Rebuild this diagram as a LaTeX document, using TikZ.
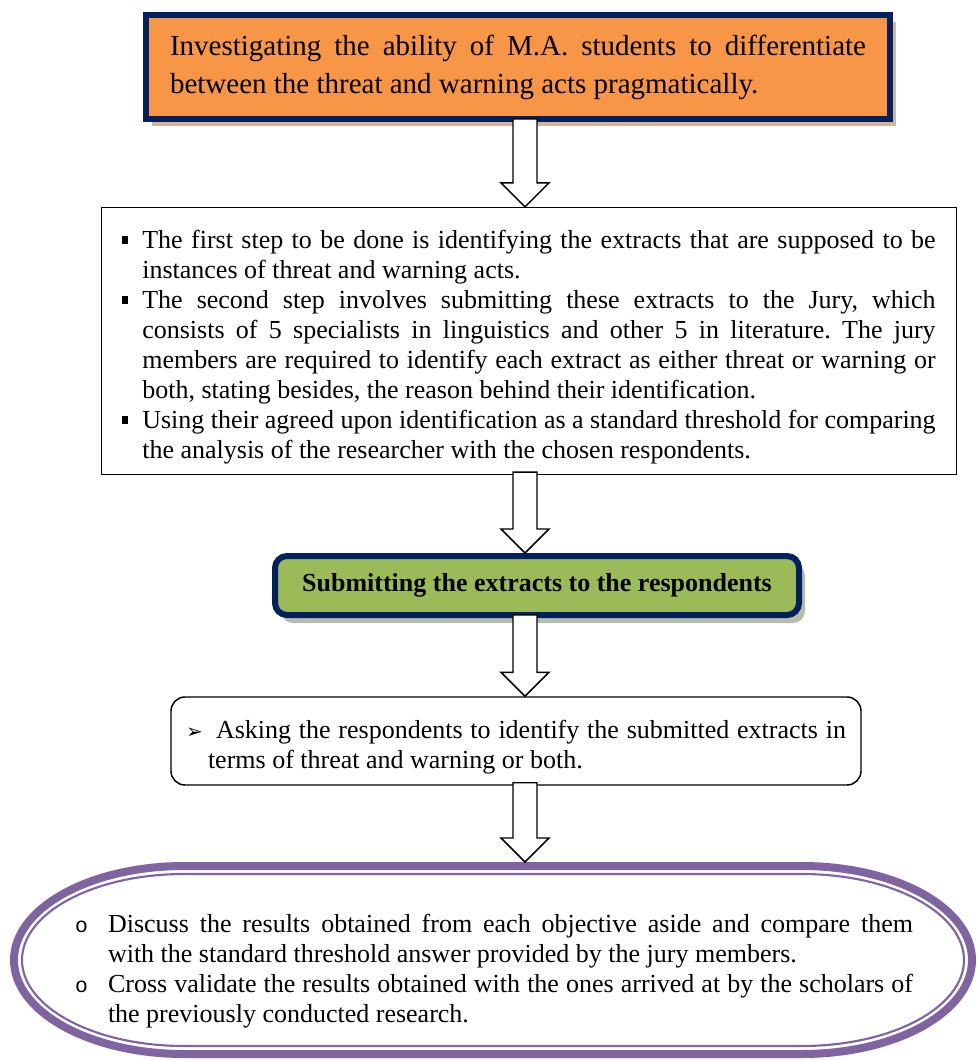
\documentclass[tikz,border=0pt]{standalone}
\usepackage{fontspec}
\setmainfont{Liberation Serif}
\newfontfamily\dingfont{DejaVu Sans}
\newfontfamily\circfont{Liberation Mono}
\usetikzlibrary{calc,shadows}

\setlength{\parindent}{0pt}
\setlength{\parskip}{0pt}
\frenchspacing

\newcommand{\sqitem}[1]{\par\noindent\hangindent=15pt\hangafter=1\makebox[15pt][l]{\rule[3pt]{4.5pt}{6pt}}#1\par}
\newcommand{\circitem}[1]{\par\noindent\hangindent=24.75pt\hangafter=1\makebox[24.75pt][l]{\circfont\fontsize{16}{16}\selectfont o}#1\par}
\newcommand{\blockarrow}[2]{\draw [arrowbody] ($(#1)+(-12,-3)$) -- ($(#2)+(-12,-24)$) -- ($(#2)+(-24,-24)$) -- (#2) -- ($(#2)+(24,-24)$) -- ($(#2)+(12,-24)$) -- ($(#1)+(12,-3)$) -- cycle ;}

\tikzset{every picture/.style={line width=0.75pt}}
\tikzset{
  bodytext/.style={font=\fontsize{19.5}{22.5}\selectfont},
  navyframe/.style={draw={rgb, 255:red, 0; green, 32; blue, 96 }, line width=4.5pt, inner sep=0pt},
  tanshadow/.style={drop shadow={shadow xshift=4.5pt, shadow yshift=-5.5pt, opacity=1, fill={rgb, 255:red, 214; green, 182; blue, 155 }}},
  greyshadow/.style={drop shadow={shadow xshift=4.5pt, shadow yshift=-6pt, opacity=1, fill={rgb, 255:red, 180; green, 190; blue, 170 }}},
  thinframe/.style={draw, line width=1.1pt, inner sep=0pt},
  ovalline/.style={draw={rgb, 255:red, 128; green, 100; blue, 162 }},
  arrowbody/.style={draw=black, fill=white, line width=1.1pt, line join=miter},
}

\begin{document}
\begin{tikzpicture}[x=0.75pt,y=0.75pt,yscale=-1,xscale=1]
\useasboundingbox (0,0) rectangle (977,1060);

\coordinate (ax) at (525,0);
\coordinate (ovaltop) at (525,862);

%Shape: Rectangle
\node (aim) at (518,67) [navyframe, tanshadow, fill={rgb, 255:red, 247; green, 150; blue, 70 }, minimum width=558pt, minimum height=78pt, text width=522pt, align=justify, font=\fontsize{21.75}{28.5}\selectfont] {Investigating the ability of M.A. students to differentiate\linebreak between the threat and warning acts pragmatically.};

%Shape: Rectangle
\node (steps) at (529,341) [thinframe, bodytext, minimum width=641pt, minimum height=200pt, text width=610pt, align=justify] {\sqitem{The first step to be done is identifying the extracts that are supposed to be\linebreak instances of threat and warning acts.}\sqitem{The second step involves submitting these extracts to the Jury, which\linebreak consists of 5 specialists in linguistics and other 5 in literature. The jury\linebreak members are required to identify each extract as either threat or warning or\linebreak both, stating besides, the reason behind their identification.}\sqitem{Using their agreed upon identification as a standard threshold for comparing\linebreak the analysis of the researcher with the chosen respondents.}};

%Shape: Rounded Rectangle
\node (submit) at (537,585.5) [navyframe, greyshadow, rounded corners=9pt, fill={rgb, 255:red, 155; green, 187; blue, 89 }, minimum width=393pt, minimum height=44.25pt, font=\bfseries\fontsize{19.5}{22.5}\selectfont] {Submitting the extracts to the respondents};

%Shape: Rounded Rectangle
\node (asking) at (516,741) [thinframe, bodytext, rounded corners=10.5pt, minimum width=517.5pt, minimum height=66pt, text width=495pt, align=justify] {\par\noindent\hangindent=16.5pt\hangafter=1\makebox[22.5pt][l]{\dingfont\fontsize{15}{15}\selectfont ➢}Asking the respondents to identify the submitted extracts in\linebreak terms of threat and warning or both.\par};

%Shape: Rounded Oval
\draw [ovalline, line width=6pt] (184,866) -- (802,866) arc [start angle=-90, end angle=90, x radius=170, y radius=94] -- (184,1054) arc [start angle=90, end angle=270, x radius=170, y radius=94] -- cycle ;
\draw [ovalline, line width=1.6pt] (184,874) -- (802,874) arc [start angle=-90, end angle=90, x radius=162, y radius=86] -- (184,1046) arc [start angle=90, end angle=270, x radius=162, y radius=86] -- cycle ;

% Text Node
\node (results) at (494,965) [bodytext, inner sep=0pt, text width=628.5pt, align=justify] {\circitem{Discuss the results obtained from each objective aside and compare them\linebreak with the standard threshold answer provided by the jury members.}\circitem{Cross validate the results obtained with the ones arrived at by the scholars of\linebreak the previously conducted research.}};

%Block Arrows
\blockarrow{aim.south -| ax}{steps.north -| ax}
\blockarrow{steps.south -| ax}{submit.north -| ax}
\blockarrow{submit.south -| ax}{asking.north -| ax}
\blockarrow{asking.south -| ax}{ovaltop}

\end{tikzpicture}
\end{document}
